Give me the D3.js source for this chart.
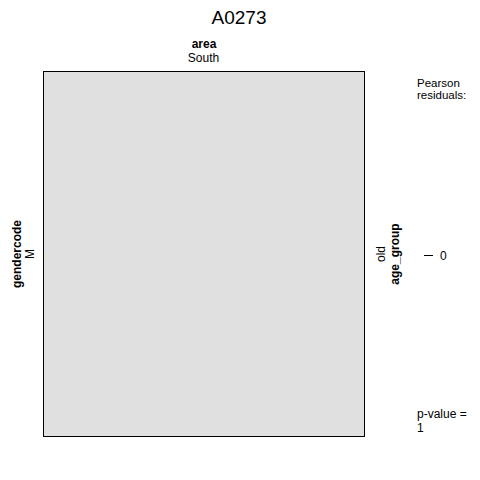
<!DOCTYPE html>
<html><head><meta charset="utf-8">
<script src="https://cdn.jsdelivr.net/npm/d3@7"></script>
<style>body{margin:0;background:#fff}text{font-family:"Liberation Sans",Arial,sans-serif}</style>
</head><body><svg id="c" width="480" height="480"></svg>
<script>
const title = "A0273";
const areas = ["South"];
const genders = ["M"];
const ageGroups = ["old"];
const counts = [1];
const residuals = [0];
const legendTicks = [0];
const pValue = "1";

const svg = d3.select("#c");
svg.append("rect").attr("width",480).attr("height",480).attr("fill","#fff");
const x = d3.scaleBand().domain(areas).range([43.5,364.5]);
const y = d3.scaleBand().domain(genders).range([71.5,436.5]);

svg.append("text").attr("x",239).attr("y",24).attr("text-anchor","middle").attr("font-size",19).text(title);
svg.append("text").attr("x",204).attr("y",48).attr("text-anchor","middle").attr("font-size",12).attr("font-weight","bold").text("area");
svg.selectAll(".xl").data(areas).join("text").attr("x",d=>x(d)+x.bandwidth()/2-0.5).attr("y",62).attr("text-anchor","middle").attr("font-size",12).text(d=>d);

genders.forEach((g,i)=>{
  svg.append("rect").attr("x",x(areas[0])).attr("y",y(g)).attr("width",x.bandwidth()).attr("height",y.bandwidth())
    .attr("fill","#e0e0e0").attr("stroke","#000").attr("stroke-width",1);
});

const cy = y(genders[0])+y.bandwidth()/2;
svg.append("text").attr("transform",`translate(21,${cy}) rotate(-90)`).attr("text-anchor","middle").attr("font-size",12).attr("font-weight","bold").text("gendercode");
svg.selectAll(".yl").data(genders).join("text").attr("transform",d=>`translate(34,${y(d)+y.bandwidth()/2}) rotate(-90)`).attr("text-anchor","middle").attr("font-size",12).text(d=>d);
svg.selectAll(".al").data(ageGroups).join("text").attr("transform",`translate(385,${cy}) rotate(-90)`).attr("text-anchor","middle").attr("font-size",12).text(d=>d);
svg.append("text").attr("transform",`translate(399,${cy}) rotate(-90)`).attr("text-anchor","middle").attr("font-size",12).attr("font-weight","bold").text("age_group");

svg.append("text").attr("x",417).attr("y",87).attr("font-size",11.5).text("Pearson");
svg.append("text").attr("x",417).attr("y",99).attr("font-size",11.5).text("residuals:");
const ly = d3.scaleLinear().domain([-1,1]).range([438,72]);
legendTicks.forEach(t=>{
  svg.append("line").attr("x1",424).attr("x2",433).attr("y1",ly(t)+0.5).attr("y2",ly(t)+0.5).attr("stroke","#000");
  svg.append("text").attr("x",440).attr("y",ly(t)+4.5).attr("font-size",12).text(t);
});
svg.append("text").attr("x",417).attr("y",418).attr("font-size",12).text("p-value =");
svg.append("text").attr("x",417).attr("y",432).attr("font-size",12).text(pValue);
</script></body></html>
